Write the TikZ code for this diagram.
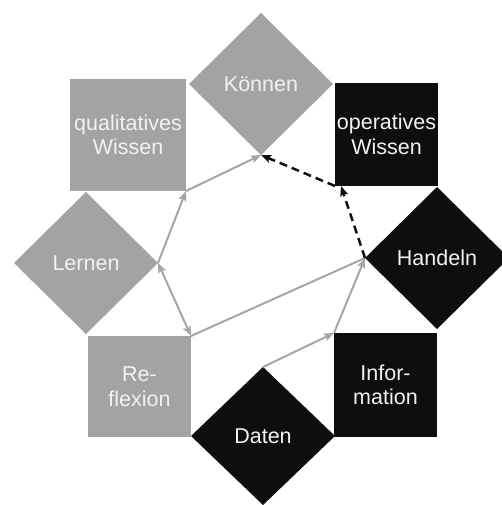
\documentclass[tikz,border=0pt]{standalone}
\usepackage{fontspec}
\setmainfont{Liberation Sans}
\usetikzlibrary{shapes.geometric,arrows.meta}
\definecolor{stepgray}{HTML}{A3A3A3}
\definecolor{stepblack}{HTML}{0E0E0E}
\definecolor{linkgray}{HTML}{A6A6A6}
\definecolor{labelwhite}{HTML}{F2F2F2}
\begin{document}
\begin{tikzpicture}[x=1pt,y=1pt,
  every node/.style={inner sep=0pt,outer sep=0pt,text=labelwhite,
    font=\fontsize{21.5}{24.5}\selectfont,align=center},
  rhomb/.style={diamond,aspect=1,minimum width=144pt,minimum height=142pt},
  boxnode/.style={rectangle,minimum width=103pt,minimum height=103pt},
  light/.style={fill=stepgray},
  dark/.style={fill=stepblack},
  flow/.style={draw=linkgray,line width=2pt,-{Stealth[length=10pt,width=8pt,inset=2pt]}},
  flowboth/.style={draw=linkgray,line width=2pt,{Stealth[length=10pt,width=8pt,inset=2pt]}-{Stealth[length=10pt,width=8pt,inset=2pt]}},
  plainflow/.style={draw=linkgray,line width=2pt},
  dflow/.style={draw=stepblack,line width=2.5pt,dash pattern=on 8pt off 5pt,-{Stealth[length=10pt,width=8pt,inset=2pt]}}]
\useasboundingbox (0,0) rectangle (501,-505);

% knowledge staircase, arranged around a ring
\node[rhomb,light] (kon) at (261,-84) {Können};
\node[boxnode,light,minimum width=116pt,minimum height=112pt] (qual) at (128,-135) {qualitatives\\Wissen};
\node[rhomb,light] (lern) at (86,-263) {Lernen};
\node[boxnode,light,minimum height=101pt] (refl) at (139.5,-386.5) {Re-\\flexion};
\node[rhomb,dark,minimum height=138pt] (dat) at (263,-436) {Daten};
\node[boxnode,dark,minimum height=104pt] (info) at (385.5,-385) {Infor-\\mation};
\node[rhomb,dark] (hand) at (437,-258) {Handeln};
\node[boxnode,dark] (op) at (386.5,-134.5) {operatives\\Wissen};

% connectors
\draw[flow] (dat.north) -- (info.north west);
\draw[flow] (info.north west) -- (hand.west);
\draw[plainflow] (refl.north east) -- (hand.west);
\draw[flowboth] (lern.east) -- (refl.north east);
\draw[flow] (lern.east) -- (qual.south east);
\draw[flow] (qual.south east) -- (kon.south);
\draw[dflow] (hand.west) -- ([xshift=6pt]op.south west);
\draw[dflow] (op.south west) -- (kon.south);
\end{tikzpicture}
\end{document}
